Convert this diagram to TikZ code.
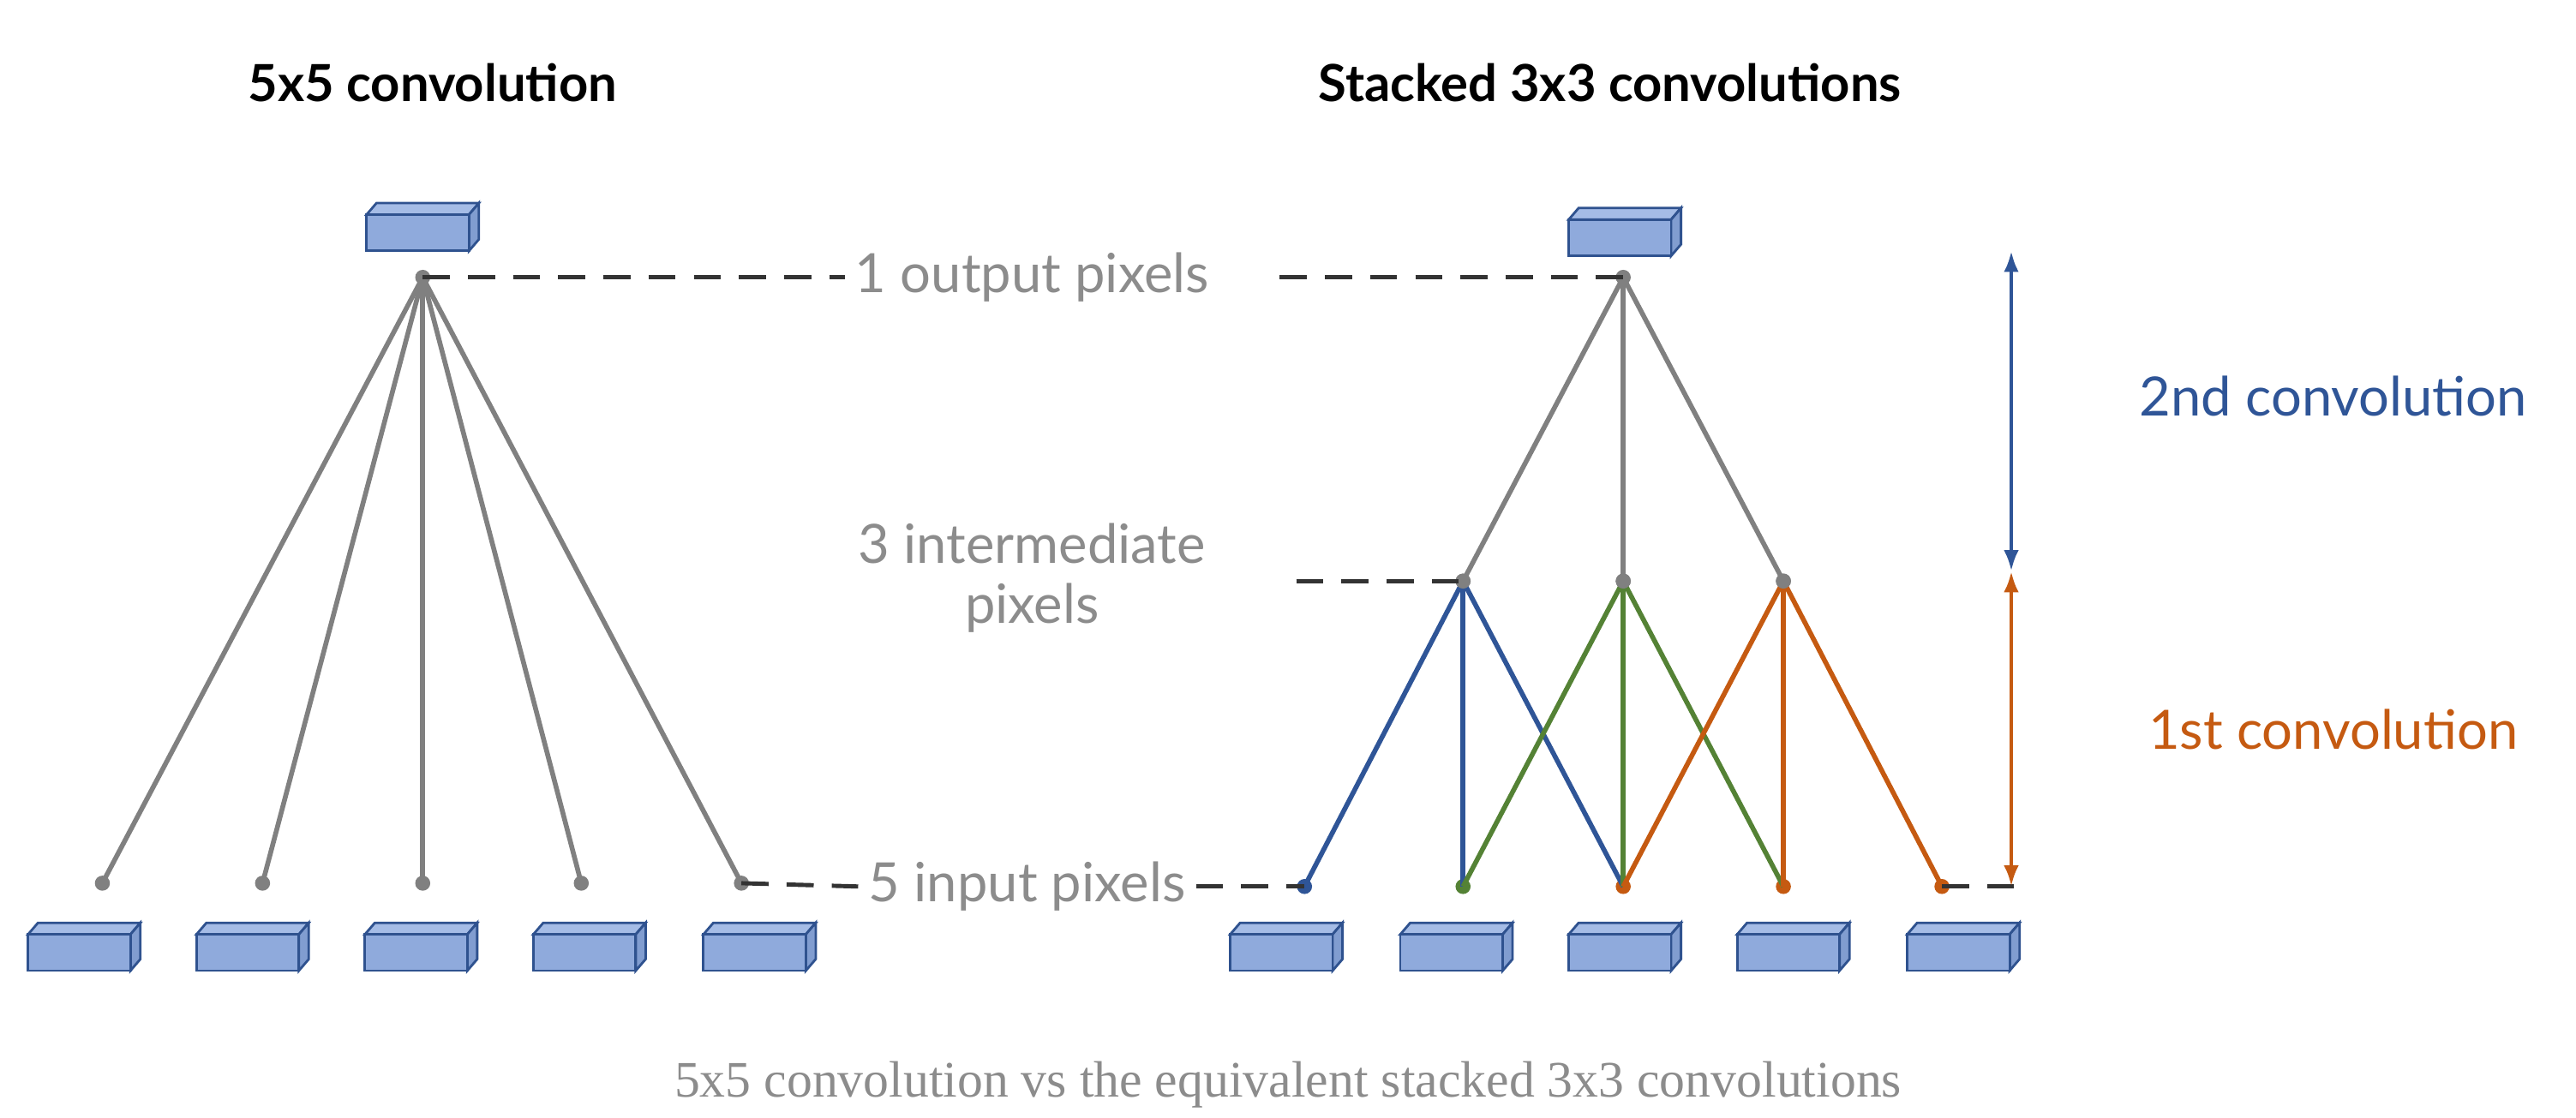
\documentclass[tikz,border=0pt]{standalone}
\usepackage{fontspec}
\setmainfont{Lato}
\newfontfamily\capfont{Liberation Serif}
\usetikzlibrary{arrows.meta}
\definecolor{boxfill}{RGB}{143,170,220}
\definecolor{boxtop}{RGB}{165,188,230}
\definecolor{boxedge}{RGB}{47,82,143}
\definecolor{lgray}{RGB}{128,128,128}
\definecolor{cblue}{RGB}{47,85,151}
\definecolor{cgreen}{RGB}{84,130,53}
\definecolor{corange}{RGB}{197,90,17}
\definecolor{txtgray}{RGB}{140,140,140}
\begin{document}
\begin{tikzpicture}[x=0.01927cm,y=-0.01927cm,
  conn/.style={line width=1.6pt,lgray},
  guide/.style={line width=1.4pt,black!80,dash pattern=on 9pt off 6pt},
  dot/.style={circle,fill=#1,inner sep=0pt,minimum size=5pt},
  lab/.style={text=txtgray,font=\fontsize{18}{22}\selectfont,align=center},
  title/.style={font=\bfseries\fontsize{17}{20}\selectfont}]
\useasboundingbox (0,0) rectangle (1560,677);
\newcommand{\cube}[2]{% left x, bottom y
  \fill[boxtop,draw=boxedge,line width=0.8pt] (#1,#2-22) -- (#1+6,#2-29) -- (#1+68,#2-29) -- (#1+62,#2-22) -- cycle;
  \fill[boxfill!85!boxedge,draw=boxedge,line width=0.8pt] (#1+62,#2) -- (#1+68,#2-7) -- (#1+68,#2-29) -- (#1+62,#2-22) -- cycle;
  \fill[boxfill,draw=boxedge,line width=0.8pt] (#1,#2-22) rectangle (#1+62,#2);}
% titles
\node[title] (t1) at (262,50) {5x5 convolution};
\node[title] (t2) at (975,50) {Stacked 3x3 convolutions};
% cubes
\cube{222}{152}
\foreach \x in {17,119,221,323,426} {\cube{\x}{588}}
\cube{950}{155}
\foreach \x in {745,848,950,1052,1155} {\cube{\x}{588}}
% left network
\node[dot=lgray] (la) at (256,168) {};
\foreach \x [count=\i] in {62,159,256,352,449} {
  \node[dot=lgray] (lb\i) at (\x,535) {};
  \draw[conn] (la.center) -- (lb\i.center);}
% right network
\node[dot=lgray] (ra) at (983,168) {};
\foreach \x [count=\i] in {886,983,1080} {
  \node[dot=lgray] (rm\i) at (\x,352) {};
  \draw[conn] (ra.center) -- (rm\i.center);}
\node[dot=cblue] (rb1) at (790,537) {};
\node[dot=cgreen] (rb2) at (886,537) {};
\node[dot=corange] (rb3) at (983,537) {};
\node[dot=corange] (rb4) at (1080,537) {};
\node[dot=corange] (rb5) at (1176,537) {};
\foreach \a/\b/\c in {1/cblue/0,2/cgreen/1,3/corange/2} {
  \foreach \k in {1,2,3} {
    \pgfmathtruncatemacro{\j}{\c+\k}
    \draw[line width=1.6pt,\b] (rm\a.center) -- (rb\j.center);}}
\node[dot=lgray] at (rm1) {};
\node[dot=lgray] at (rm2) {};
\node[dot=lgray] at (rm3) {};
% labels
\node[lab] (l1) at (625,168) {1 output pixels};
\node[lab] (l3) at (625,350) {3 intermediate\\[-2pt]pixels};
\node[lab] (l5) at (622,537) {5 input pixels};
\coordinate (d1) at (775,168);
\coordinate (d2) at (785,352);
\coordinate (d3) at (1225,537);
\draw[guide] (la.center) -- (l1.west);
\draw[guide] (d1) -- (ra.center);
\draw[guide] (d2) -- (rm1.center);
\draw[guide] (lb5.center) -- (l5.west);
\draw[guide] (l5.east) -- (rb1.center);
\draw[guide] (rb5.center) -- (d3);
% span arrows
\coordinate (ax) at (1218,152);
\coordinate (am) at (1218,346);
\coordinate (ab) at (1218,537);
\draw[cblue,line width=1.3pt,{Latex[length=7pt,width=5pt]}-{Latex[length=7pt,width=5pt]}] (ax) -- (am);
\draw[corange,line width=1.3pt,{Latex[length=7pt,width=5pt]}-{Latex[length=7pt,width=5pt]}] (ab) -- (am);
\node[text=cblue,font=\fontsize{18}{22}\selectfont] (c2) at (1413,240) {2nd convolution};
\node[text=corange,font=\fontsize{18}{22}\selectfont] (c1) at (1413,442) {1st convolution};
% caption
\node[text=txtgray,font=\capfont\fontsize{17}{20}\selectfont] (cap) at (780,657) {5x5 convolution vs the equivalent stacked 3x3 convolutions};
\end{tikzpicture}
\end{document}
